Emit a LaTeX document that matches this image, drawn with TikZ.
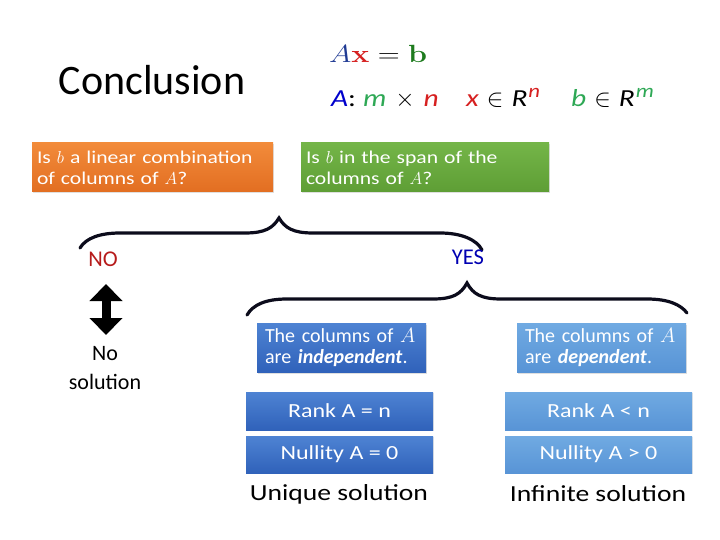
\documentclass[tikz,border=0pt]{standalone}
\usepackage[no-math]{fontspec}
\setmainfont{Carlito}
\newfontfamily\widefont[FakeStretch=1.2]{Carlito}
\usepackage{graphicx}
\usepackage{xcolor}
\usepackage{tikz}
\usetikzlibrary{arrows.meta,positioning,shadows}
\definecolor{figOrangeT}{HTML}{F28B3A}
\definecolor{figOrangeB}{HTML}{E26E22}
\definecolor{figGreenT}{HTML}{74B548}
\definecolor{figGreenB}{HTML}{5E9E35}
\definecolor{figBlueT}{HTML}{4E83D3}
\definecolor{figBlueB}{HTML}{3062BA}
\definecolor{figSkyT}{HTML}{70AAE2}
\definecolor{figSkyB}{HTML}{5894D6}
\definecolor{figNavy}{HTML}{1F3A93}
\definecolor{figRed}{HTML}{D62020}
\definecolor{figDkGreen}{HTML}{1E7B1E}
\definecolor{figMGreen}{HTML}{2EA855}
\definecolor{figInk}{HTML}{0C0C1C}
\newcommand{\supr}[1]{\raisebox{9pt}{\fontsize{19}{19}\selectfont #1}}

\begin{document}
\begin{tikzpicture}[
  x=1pt, y=-1pt,
  every node/.style={inner sep=0pt},
  qbox/.style={text=white, align=left, inner xsep=5pt, inner ysep=0pt,
    font=\widefont\fontsize{18}{21}\selectfont,
    drop shadow={opacity=0.25, shadow xshift=1pt, shadow yshift=-1.5pt}},
  colbox/.style={text=white, align=left, inner xsep=8pt, inner ysep=0pt,
    font=\fontsize{20}{21}\selectfont, minimum width=169pt, minimum height=49pt,
    text width=153pt,
    drop shadow={opacity=0.25, shadow xshift=1pt, shadow yshift=-1.5pt}},
  factbox/.style={text=white, font=\widefont\fontsize{20}{24}\selectfont,
    minimum width=187pt, drop shadow={opacity=0.2, shadow xshift=1pt, shadow yshift=-1pt}},
  brace/.style={figInk, line width=3.2pt, line cap=round},
  eqn/.style={anchor=base west, font=\widefont\fontsize{24.5}{26}\selectfont\itshape},
  big/.style={font=\fontsize{22}{29}\selectfont, align=center},
]
\useasboundingbox (0,0) rectangle (720,540);

% --- Title and equation ---
\node[font=\fontsize{42}{46}\selectfont] (title) at (152,80) {Conclusion};
\node[anchor=base west, font=\fontsize{23}{26}\selectfont] (eq) at (329,63)
  {\scalebox{1.22}[1]{$\color{figNavy}A\color{figRed}\mathbf{x}\color{black}=\color{figDkGreen}\mathbf{b}$}};
\node[eqn] (dims) at (331,107)
  {\color{blue!80!black}A\color{black}\upshape:\hspace{7pt}\itshape\color{figMGreen}m\hspace{9pt}\color{black}$\times$\hspace{9pt}\color{figRed}n};
\node[eqn] (xin) at (466,107)
  {\color{figRed}x\hspace{8pt}\color{black}$\in$\hspace{8pt}R\hspace{1pt}\supr{\color{figRed}n}};
\node[eqn] (bin) at (571,107)
  {\color{figMGreen}b\hspace{8pt}\color{black}$\in$\hspace{8pt}R\hspace{1pt}\supr{\color{figMGreen}m}};

% --- Questions ---
\node[qbox, top color=figOrangeT, bottom color=figOrangeB,
  minimum width=241pt, minimum height=49pt, text width=231pt] (lincomb) at (152.5,167.5)
  {Is $b$ a linear combination\\of columns of $A$?};
\node[qbox, top color=figGreenT, bottom color=figGreenB,
  minimum width=248pt, minimum height=49pt, text width=238pt] (span) at (425,167.5)
  {Is $b$ in the span of the\\columns of $A$?};

% --- First brace ---
\coordinate (lA) at (80,248);
\coordinate (tA) at (279,218);
\coordinate (rA) at (482,250);
\draw[brace] (lA) .. controls (86,238) and (100,233) .. (120,233) -- (245,233)
  .. controls (265,233) and (273,228) .. (tA)
  .. controls (285,228) and (293,233) .. (313,233) -- (440,233)
  .. controls (462,233) and (477,240) .. (rA);

\node[font=\fontsize{22.5}{24}\selectfont, text=figRed!85!black] (no) at (103,259) {NO};
\node[font=\fontsize{22.5}{24}\selectfont, text=blue!70!black] (yes) at (468,257) {YES};

% --- No solution ---
\coordinate (upA) at (106,284);
\coordinate (dnA) at (106,335);
\draw[line width=9pt, {Triangle[length=17pt,width=32pt]}-{Triangle[length=17pt,width=32pt]}]
  (upA) -- (dnA);
\node[big] (nosol) at (105,368) {No\\solution};

% --- Second brace ---
\coordinate (lB) at (247,315);
\coordinate (tB) at (467,283);
\coordinate (rB) at (687,313);
\draw[brace] (lB) .. controls (253,305) and (265,299) .. (287,299) -- (433,299)
  .. controls (453,299) and (461,294) .. (tB)
  .. controls (473,294) and (481,299) .. (501,299) -- (647,299)
  .. controls (669,299) and (681,305) .. (rB);

% --- Independent / dependent ---
\node[colbox, top color=figBlueT, bottom color=figBlueB] (indep) at (341.5,347.5)
  {The columns of $A$\\are \textbf{\textit{independent}}.};
\node[colbox, top color=figSkyT, bottom color=figSkyB] (dep) at (601.5,347.5)
  {The columns of $A$\\are \textbf{\textit{dependent}}.};

% --- Rank and nullity ---
\node[factbox, top color=figBlueT, bottom color=figBlueB, minimum height=38pt] (rankI) at (339.5,411) {Rank A = n};
\node[factbox, top color=figBlueT, bottom color=figBlueB, minimum height=37pt] (nullI) at (339.5,454.5) {Nullity A = 0};
\node[factbox, top color=figSkyT, bottom color=figSkyB, minimum height=38pt] (rankD) at (598.5,411) {Rank A < n};
\node[factbox, top color=figSkyT, bottom color=figSkyB, minimum height=37pt] (nullD) at (598.5,454.5) {Nullity A > 0};

\node[font=\widefont\fontsize{23}{28}\selectfont] (unique) at (339,494) {Unique solution};
\node[font=\widefont\fontsize{23}{28}\selectfont] (infin) at (598,494) {Infinite solution};

\end{tikzpicture}
\end{document}
